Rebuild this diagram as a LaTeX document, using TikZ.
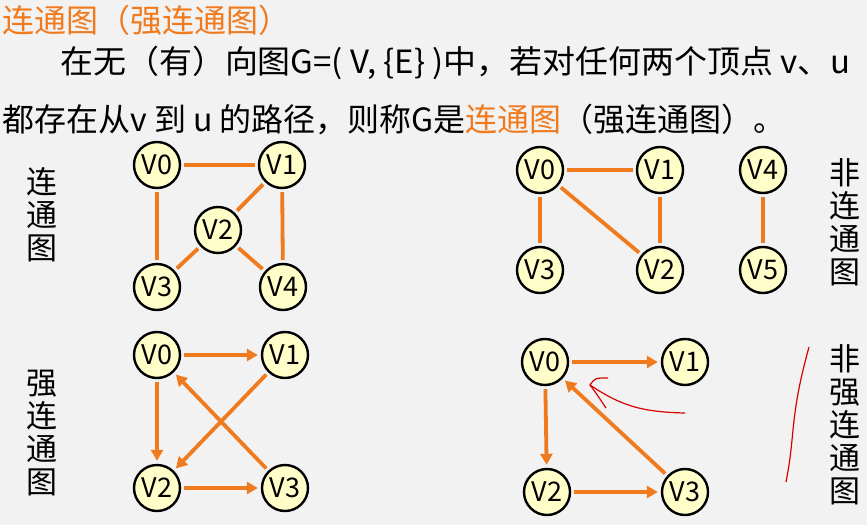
\documentclass[tikz,border=0pt]{standalone}
\usepackage{fontspec}
\setmainfont{Noto Sans CJK SC}
\usetikzlibrary{arrows.meta}
\definecolor{bg}{HTML}{F2F2F2}
\definecolor{org}{HTML}{F07A1E}
\definecolor{nfill}{HTML}{FFFDC8}
\begin{document}
\begin{tikzpicture}[x=1pt,y=-1pt,
  v/.style={circle,draw=black,line width=2.4pt,fill=nfill,minimum size=46pt,inner sep=0pt,font=\fontsize{27}{27}\selectfont},
  e/.style={draw=org,line width=3.8pt,shorten <=3pt,shorten >=3pt},
  a/.style={e,-{Triangle[length=11pt,width=12pt]}},
  side/.style={font=\fontsize{31}{33}\selectfont,align=center,text width=34pt},
  txt/.style={font=\fontsize{32}{32}\selectfont,anchor=base west,inner sep=0pt}]
\fill[bg] (0,0) rectangle (867,525);
\useasboundingbox (0,0) rectangle (867,525);
\node[txt,text=org] (t) at (2,32) {连通图（强连通图）};
\node[txt,xscale=1.03,transform shape] (l1) at (60,73) {在无（有）向图G=( V, \{E\} )中，若对任何两个顶点 v、u};
\node[txt] (l2) at (2,131) {都存在从v 到 u 的路径，则称G是\textcolor{org}{连通图}（强连通图）。};
% side labels
\node[side] (s1) at (42,215) {连\\通\\图};
\node[side] (s2) at (42,433) {强\\连\\通\\图};
\node[side] (s3) at (845,222) {非\\连\\通\\图};
\node[side] (s4) at (845,425) {非\\强\\连\\通\\图};
% graph 1
\node[v] (a0) at (157,165) {V0};
\node[v] (a1) at (282,165) {V1};
\node[v] (a2) at (218,230) {V2};
\node[v] (a3) at (157,287) {V3};
\node[v] (a4) at (283,287) {V4};
\draw[e] (a0)--(a1); \draw[e] (a0)--(a3); \draw[e] (a1)--(a2);
\draw[e] (a2)--(a3); \draw[e] (a2)--(a4); \draw[e] (a1)--(a4);
% graph 2
\node[v] (b0) at (540,170) {V0};
\node[v] (b1) at (660,170) {V1};
\node[v] (b2) at (660,270) {V2};
\node[v] (b3) at (540,270) {V3};
\node[v] (b4) at (763,170) {V4};
\node[v] (b5) at (763,270) {V5};
\draw[e] (b0)--(b1); \draw[e] (b0)--(b3); \draw[e] (b0)--(b2);
\draw[e] (b1)--(b2); \draw[e] (b4)--(b5);
% graph 3
\node[v] (c0) at (157,355) {V0};
\node[v] (c1) at (285,355) {V1};
\node[v] (c2) at (157,488) {V2};
\node[v] (c3) at (285,488) {V3};
\draw[a] (c0)--(c1); \draw[a] (c0)--(c2); \draw[a] (c1)--(c2);
\draw[a] (c3)--(c0); \draw[a] (c2)--(c3);
% graph 4
\node[v] (d0) at (545,362) {V0};
\node[v] (d1) at (685,362) {V1};
\node[v] (d2) at (547,492) {V2};
\node[v] (d3) at (685,492) {V3};
\draw[a] (d0)--(d1); \draw[a] (d0)--(d2); \draw[a] (d3)--(d0); \draw[a] (d2)--(d3);
% red scribbles
\coordinate (r1) at (685,413);
\coordinate (r2) at (590,385);
\draw[red!85!black,line width=1.2pt] (r1) .. controls (640,412) and (620,405) .. (r2)
  .. controls (595,378) .. (608,378);
\draw[red!85!black,line width=1.2pt] (r2) .. controls (596,393) .. (606,408);
\coordinate (q1) at (809,347);
\coordinate (q2) at (786,482);
\draw[red!85!black,line width=1.2pt] (q1) .. controls (800,380) and (796,400) .. (793,430) .. controls (790,460) .. (q2);
\end{tikzpicture}
\end{document}
